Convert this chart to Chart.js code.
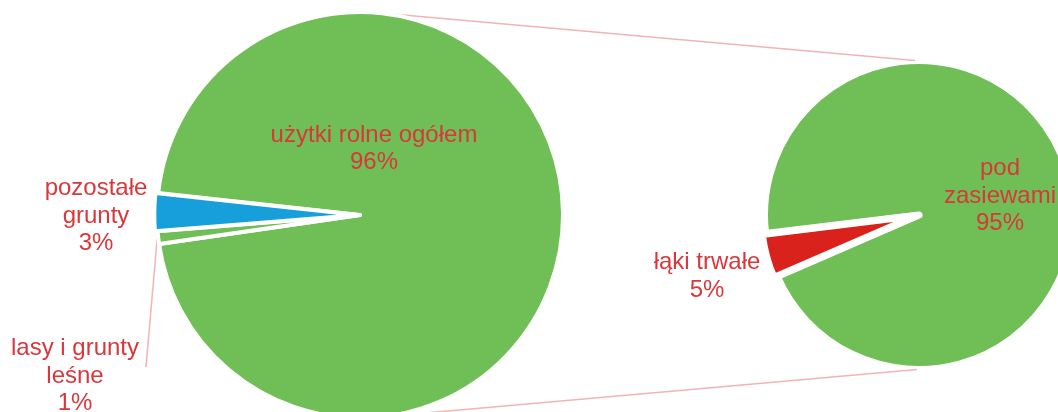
<!DOCTYPE html>
<html>
<head>
<meta charset="utf-8">
<script src="https://cdn.jsdelivr.net/npm/chart.js@4"></script>
<style>
  html, body { margin: 0; padding: 0; background: #fff; }
  #wrap { position: relative; width: 1058px; height: 412px; overflow: hidden; }
  #wrap canvas { position: absolute; left: 0; top: 0; }
</style>
</head>
<body>
<div id="wrap">
  <canvas id="detailPie" width="1058" height="412"></canvas>
  <canvas id="mainPie" width="1058" height="412"></canvas>
</div>
<script>
// data
const mainCategories = [['użytki rolne ogółem'], ['lasy i grunty', 'leśne'], ['pozostałe', 'grunty']];
const mainValues = [96, 1, 3];
const detailCategories = [['pod', 'zasiewami'], ['łąki trwałe']];
const detailValues = [95.4, 4.6];

const GREEN = '#70bf56', BLUE = '#179fdb', RED = '#da221d';
const TEXT = '#d9373a', LINK = '#f2b3b4';
const FONT = '24px "Liberation Sans", Arial, sans-serif';
const LINE_H = 27.5;

function pct(values, i) {
    const total = values.reduce((a, b) => a + b, 0);
    return Math.round(values[i] / total * 100) + '%';
}

// category + percent text, placed relative to the pie centre
const sliceLabels = {
    id: 'sliceLabels',
    afterDatasetsDraw(chart, args, opts) {
        const ctx = chart.ctx;
        const arc = chart.getDatasetMeta(0).data[0];
        const values = chart.data.datasets[0].data;
        ctx.save();
        ctx.font = FONT;
        ctx.fillStyle = TEXT;
        ctx.textAlign = 'center';
        ctx.textBaseline = 'alphabetic';
        chart.data.labels.forEach((lines, i) => {
            const [dx, dy] = opts.pos[i];
            lines.concat(pct(values, i)).forEach((t, k) => {
                ctx.fillText(t, arc.x + dx, arc.y + dy + k * LINE_H);
            });
        });
        ctx.restore();
    }
};

const detailChart = new Chart(document.getElementById('detailPie'), {
    type: 'pie',
    data: {
        labels: detailCategories,
        datasets: [{
            data: detailValues,
            backgroundColor: [GREEN, RED],
            borderColor: '#fff',
            borderWidth: 7,
            borderJoinStyle: 'round',
            offset: [0, 8]
        }]
    },
    options: {
        responsive: false,
        animation: false,
        events: [],
        radius: 154.5,
        rotation: 263.1,
        layout: { padding: { left: 780, right: 0, top: 18, bottom: 0 } },
        plugins: {
            legend: { display: false },
            tooltip: { enabled: false },
            sliceLabels: { pos: [[81, -40], [-212, 54]] }
        }
    },
    plugins: [sliceLabels]
});

// lines joining the two pies + leader line of the small slice
// (main canvas sits on top, so these stay visible over the right pie's white rim)
const connectors = {
    id: 'connectors',
    beforeDatasetsDraw(chart) {
        const ctx = chart.ctx;
        const a = chart.getDatasetMeta(0).data[0];
        const b = detailChart.getDatasetMeta(0).data[0];
        const r1 = a.outerRadius;
        const ends = [
            [b.x - 4, b.y - b.outerRadius, -1],
            [b.x - 2, b.y + b.outerRadius, 1]
        ];
        ctx.save();
        ctx.strokeStyle = LINK;
        ctx.lineWidth = 1.5;
        ends.forEach(([px, py, side]) => {
            const L = Math.hypot(px - a.x, py - a.y);
            const th = Math.atan2(py - a.y, px - a.x);
            const ang = th + side * Math.acos(r1 / L);
            ctx.beginPath();
            ctx.moveTo(a.x + r1 * Math.cos(ang), a.y + r1 * Math.sin(ang));
            ctx.lineTo(px, py);
            ctx.stroke();
        });

        const small = chart.getDatasetMeta(0).data[1];
        const mid = (small.startAngle + small.endAngle) / 2;
        ctx.beginPath();
        ctx.moveTo(a.x - 214, a.y + 152);
        ctx.lineTo(a.x + (r1 + 1) * Math.cos(mid), a.y + (r1 + 1) * Math.sin(mid));
        ctx.stroke();
        ctx.restore();
    }
};

new Chart(document.getElementById('mainPie'), {
    type: 'pie',
    data: {
        labels: mainCategories,
        datasets: [{
            data: mainValues,
            backgroundColor: [GREEN, GREEN, BLUE],
            borderColor: '#fff',
            borderWidth: 4,
            borderJoinStyle: 'round',
            offset: [0, 0, 6]
        }]
    },
    options: {
        responsive: false,
        animation: false,
        events: [],
        radius: 203,
        rotation: 276.2,
        layout: { padding: { left: 0, right: 338, top: 18, bottom: 0 } },
        plugins: {
            legend: { display: false },
            tooltip: { enabled: false },
            sliceLabels: { pos: [[14, -73.5], [-285, 140], [-264, -20]] }
        }
    },
    plugins: [connectors, sliceLabels]
});
</script>
</body>
</html>
